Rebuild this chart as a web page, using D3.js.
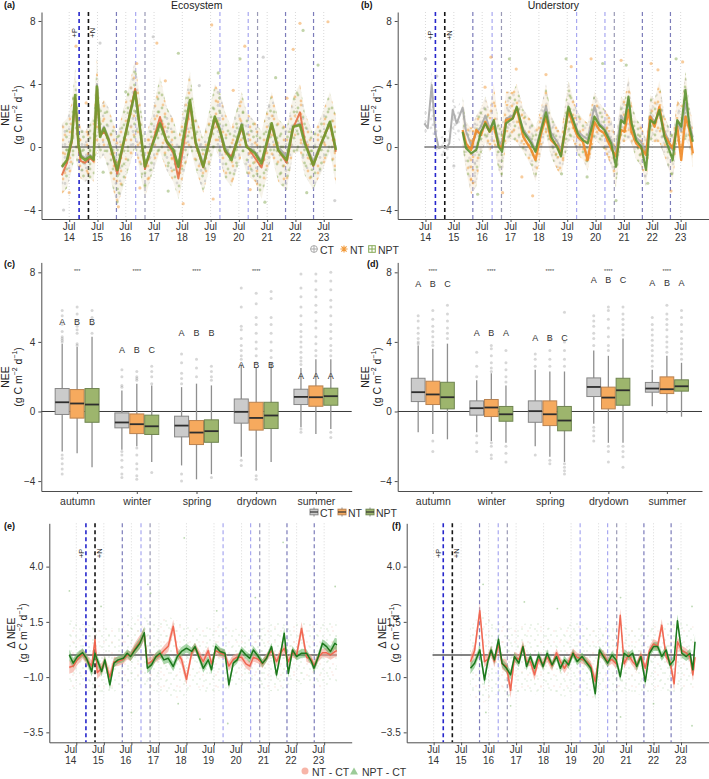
<!DOCTYPE html>
<html>
<head>
<meta charset="utf-8">
<script src="https://cdn.jsdelivr.net/npm/d3@7"></script>
<style>
  body { margin: 0; background: #fff; }
  svg { display: block; font-family: "Liberation Sans", Arial, sans-serif; }
</style>
</head>
<body>
<div id="chart"></div>
<script>
// ---------- data ----------
const yearTicks = [2014.5, 2015.5, 2016.5, 2017.5, 2018.5, 2019.5, 2020.5, 2021.5, 2022.5, 2023.5];
const yearTickLabels = ['14', '15', '16', '17', '18', '19', '20', '21', '22', '23'];
const tickMonth = 'Jul';

const eventYears = [2014.85, 2015.18, 2016.17, 2016.85, 2017.18, 2019.83, 2020.83, 2021.16, 2022.15, 2023.14];
const eventKinds = ['P', 'N', 'E1', 'E2', 'E3', 'E2', 'E2', 'E3', 'E1', 'E1'];

// (a) ecosystem NEE
const ecoYears = [2014.24, 2014.42, 2014.59, 2014.71, 2014.83, 2014.91, 2015.06, 2015.24, 2015.36, 2015.48, 2015.59, 2015.73, 2015.89, 2016.20, 2016.83, 2017.18, 2017.42, 2017.71, 2017.95, 2018.18, 2018.36, 2018.77, 2018.97, 2019.24, 2019.65, 2019.83, 2020.01, 2020.24, 2020.60, 2020.77, 2021.07, 2021.30, 2021.66, 2021.89, 2022.19, 2022.42, 2022.66, 2022.83, 2023.13, 2023.42, 2023.72, 2023.93];
const ecoCT = [-1.3, -0.9, 0.5, 3.2, 0.2, -0.5, -0.7, -0.5, -0.7, 4.0, 0.8, 1.3, 0.6, -1.5, 3.6, -1.3, 0.0, 1.6, 0.4, -0.1, -1.3, 2.9, 0.4, -1.1, 1.9, 1.1, 0.0, -0.7, 1.5, 0.1, -0.3, -0.9, 1.5, 0.0, -0.6, 1.3, 1.5, 0.3, -0.9, 0.3, 1.6, -0.1];
const ecoNT = [-1.8, -1.0, 0.3, 3.1, 0.0, -0.9, -1.0, -0.7, -0.9, 3.6, 0.7, 1.0, 0.5, -1.7, 3.7, -1.4, 0.1, 1.9, 0.3, -0.4, -2.0, 2.7, 0.2, -1.3, 1.8, 1.0, -0.3, -0.6, 1.2, 0.1, -0.7, -1.3, 1.4, -0.2, -1.0, 1.2, 2.2, 0.4, -1.2, 0.3, 1.5, -0.3];
const ecoNPT = [-1.25, -0.83, 0.44, 3.3, 0.13, -0.6, -0.83, -0.6, -0.8, 3.83, 0.65, 1.19, 0.44, -1.46, 3.51, -1.25, 0.02, 1.5, 0.34, -0.19, -1.25, 2.98, 0.3, -1.25, 1.93, 1.08, -0.19, -0.83, 1.4, 0.02, -0.4, -1.04, 1.5, -0.19, -0.83, 1.29, 1.4, 0.23, -1.14, 0.23, 1.6, -0.19];
const ecoCloudLo = [-3.0, -2.6, -1.5, -0.5, -1.6, -2.0, -2.2, -2.0, -2.2, 0.0, -0.8, -0.5, -1.5, -3.8, 0.0, -3.2, -1.8, -0.3, -1.5, -2.2, -3.3, 0.0, -1.4, -2.9, 0.0, -0.8, -2.0, -2.5, -0.5, -1.7, -2.2, -3.3, -0.5, -2.2, -2.8, -0.4, -0.3, -1.8, -2.7, -1.6, -0.3, -2.4];
const ecoCloudHi = [1.5, 1.8, 2.8, 5.0, 2.2, 1.2, 1.0, 1.5, 2.0, 5.6, 2.5, 3.0, 2.5, 0.8, 5.5, 0.5, 2.0, 4.5, 2.5, 1.8, 0.6, 4.8, 2.0, 0.5, 4.0, 3.5, 2.2, 1.2, 3.5, 2.2, 1.6, 1.0, 3.5, 1.8, 1.2, 3.2, 4.0, 2.2, 0.8, 2.0, 3.5, 2.0];
const ecoPoints = [[2014.74, 6.4, 'NT'], [2016.89, 5.3, 'NT'], [2017.47, 7.0, 'CT'], [2017.6, 6.6, 'NT'], [2018.36, 5.95, 'NPT'], [2019.54, 7.75, 'NT'], [2020.54, 5.6, 'NPT'], [2020.71, 6.4, 'NT'], [2021.36, 5.7, 'CT'], [2022.66, 7.85, 'NT'], [2022.77, 7.4, 'NPT'], [2023.65, 7.95, 'NT'], [2023.3, 5.2, 'NPT'], [2015.59, 6.6, 'CT'], [2019.77, 4.7, 'NPT'], [2022.42, 6.2, 'NT'], [2014.3, -4.0, 'CT'], [2016.24, -3.8, 'NT'], [2018.53, -3.6, 'NT'], [2021.42, -3.5, 'NPT'], [2023.89, -3.4, 'CT'], [2019.59, -3.3, 'NT'], [2015.1, 2.8, 'NT'], [2016.5, 3.5, 'NPT'], [2017.9, 4.2, 'NT'], [2019.1, 3.9, 'CT'], [2020.3, 3.6, 'NT'], [2021.8, 4.4, 'NPT'], [2022.2, 3.1, 'NT'], [2014.5, -2.9, 'NT'], [2015.7, -1.6, 'NPT'], [2017.0, -2.6, 'NT'], [2018.0, -2.8, 'NPT'], [2020.9, -2.7, 'NT'], [2022.9, -2.9, 'NPT']];

// (b) understory NEE
const undYears = [2014.46, 2014.58, 2014.72, 2014.85, 2014.97, 2015.11, 2015.23, 2015.34, 2015.46, 2015.60, 2015.81, 2015.93, 2016.11, 2016.29, 2016.46, 2016.61, 2016.76, 2016.91, 2017.08, 2017.20, 2017.34, 2017.58, 2017.72, 2017.95, 2018.23, 2018.38, 2018.58, 2018.75, 2018.93, 2019.16, 2019.28, 2019.54, 2019.69, 2019.87, 2020.05, 2020.22, 2020.46, 2020.63, 2020.81, 2021.05, 2021.22, 2021.40, 2021.52, 2021.66, 2021.77, 2021.93, 2022.11, 2022.28, 2022.43, 2022.58, 2022.75, 2022.93, 2023.10, 2023.22, 2023.38, 2023.52, 2023.67, 2023.81, 2023.93];
const undCT = [1.5, 1.19, 3.94, 0.87, -0.08, 0.02, -0.08, 0.23, 2.35, 1.5, 2.5, 1.0, 0.1, 0.9, 1.3, 2.0, 1.2, 1.6, 0.4, 0.1, 1.8, 2.0, 2.4, 1.1, 0.4, -0.2, 1.2, 2.6, 0.9, 0.3, -0.2, 2.2, 1.7, 1.0, 0.7, 0.5, 2.6, 1.5, 1.2, 0.4, -0.3, 2.0, 1.6, 3.0, 1.4, 0.6, 0.3, -0.4, 2.0, 1.6, 2.2, 1.0, 0.3, -0.2, 1.6, 1.0, 2.8, 1.5, 0.6];
const undNT = [null, null, null, null, null, null, null, null, null, null, 1.08, 0.23, -0.19, 1.08, 0.76, 1.6, 0.97, 1.29, 0.13, -0.08, 1.71, 1.82, 2.46, 0.65, -0.19, -0.83, 0.87, 1.9, 0.44, 0.02, -0.51, 2.35, 1.5, 0.65, 0.34, -0.83, 1.6, 1.08, 0.87, -0.08, -0.6, 1.08, 0.97, 2.35, 0.97, 0.23, -0.08, -0.51, 1.93, 1.29, 2.56, 0.76, 0.23, -0.08, 1.29, -0.83, 1.93, 1.08, -0.4];
const undNPT = [null, null, null, null, null, null, null, null, null, null, 0.97, -0.08, -0.4, -0.19, 0.97, 1.5, 0.97, 1.71, 0.02, -0.3, 1.5, 1.82, 2.56, 0.97, 0.23, -0.3, 1.08, 2.2, 0.65, -0.08, -0.6, 2.56, 1.82, 0.87, 0.44, 0.23, 1.93, 1.4, 1.08, 0.23, -1.25, 1.71, 1.5, 3.2, 1.5, 0.44, 0.02, -1.46, 1.71, 1.5, 2.35, 0.65, -0.19, -0.83, 1.71, 1.29, 3.62, 1.29, 0.34];
const undCloudLo = [0.6, 0.5, 1.2, -0.3, -0.6, -0.6, -1.2, -0.5, 1.0, 0.7, 0.0, -1.5, -3.0, -2.5, -0.5, 0.3, -0.3, 0.2, -1.5, -2.0, 0.2, 0.5, 0.3, -0.3, -1.2, -2.2, -0.3, 0.8, -0.6, -1.5, -1.8, 0.3, 0.5, -0.5, -0.8, -1.5, 0.5, 0.2, -0.2, -1.2, -2.6, 0.3, 0.3, 0.5, 0.2, -0.8, -1.2, -2.5, 0.4, 0.3, 0.3, -0.6, -1.5, -2.2, 0.4, -0.8, 0.5, 0.0, -1.3];
const undCloudHi = [2.5, 2.2, 4.8, 1.8, 0.6, 0.7, 0.6, 1.2, 3.2, 2.4, 3.2, 1.6, 1.2, 2.0, 2.5, 3.2, 2.3, 4.0, 1.5, 1.2, 3.5, 3.5, 4.0, 2.4, 1.7, 1.2, 2.5, 4.0, 2.0, 1.2, 0.8, 4.2, 3.2, 2.2, 1.8, 1.5, 3.5, 2.8, 2.4, 1.8, 0.5, 3.2, 3.0, 4.5, 2.8, 1.8, 1.4, 0.5, 3.3, 3.0, 4.2, 2.0, 1.2, 0.8, 3.0, 2.6, 4.8, 2.6, 1.5];
const undPoints = [[2014.5, 5.6, 'CT'], [2014.9, 4.5, 'CT'], [2016.81, 5.7, 'NT'], [2017.46, 5.6, 'NPT'], [2017.7, 4.95, 'NT'], [2018.75, 4.6, 'NT'], [2019.46, 5.6, 'NPT'], [2019.64, 5.1, 'NT'], [2020.34, 5.6, 'NT'], [2020.75, 5.3, 'NPT'], [2021.4, 5.5, 'NT'], [2021.58, 5.2, 'NPT'], [2022.46, 5.3, 'NT'], [2022.7, 4.9, 'NT'], [2023.34, 5.6, 'NPT'], [2023.57, 5.4, 'NT'], [2016.34, -3.0, 'NPT'], [2017.22, -2.9, 'NT'], [2018.28, -3.1, 'NT'], [2021.22, -3.4, 'NPT'], [2022.34, -2.3, 'NPT'], [2023.16, -2.8, 'NT'], [2016.6, 3.8, 'NT'], [2017.9, -1.9, 'NT'], [2019.3, -1.7, 'NPT'], [2020.2, -1.9, 'NPT'], [2015.5, -1.2, 'CT']];

// (c)/(d) seasonal boxes, order: season x (CT, NT, NPT)
const seasons = ['autumn', 'winter', 'spring', 'drydown', 'summer'];
const treatments = ['CT', 'NT', 'NPT'];
const ecoQ1 = [-0.17, -0.38, -0.62, -0.94, -1.27, -1.32, -1.46, -1.90, -1.77, -0.67, -1.07, -0.98, 0.40, 0.30, 0.36];
const ecoMed = [0.53, 0.46, 0.40, -0.63, -0.73, -0.85, -0.81, -1.21, -1.13, -0.02, -0.37, -0.23, 0.84, 0.82, 0.88];
const ecoQ3 = [1.32, 1.26, 1.32, -0.08, -0.14, -0.21, -0.27, -0.52, -0.48, 0.72, 0.53, 0.53, 1.28, 1.47, 1.34];
const ecoWhiskLo = [-2.3, -2.4, -3.2, -2.2, -2.0, -2.9, -3.1, -3.9, -3.6, -2.6, -3.4, -2.9, -0.9, -1.3, -1.0];
const ecoWhiskHi = [3.9, 3.7, 4.3, 1.2, 1.6, 1.5, 1.4, 1.6, 1.5, 2.7, 2.5, 2.8, 2.5, 3.0, 3.0];
const ecoOutliers = [
  [4.0, 4.1, 4.2, 4.3, 4.6, 5.0, 5.5, 5.8, -2.5, -2.7, -3.0, -3.3, -3.6],
  [3.8, 3.9, 4.5, 4.7, 4.9, 5.2, 5.6, 6.0],
  [4.5, 5.0, 5.4, 5.8],
  [1.4, 1.5, 2.0, 2.4, -2.3, -2.5, -2.8, -3.2, -3.6, -3.8],
  [1.8, 1.9, 2.0, 2.3, -2.1, -2.5, -3.0, -3.3, -3.7, -3.9],
  [1.6, 2.0, 2.3, 2.6, -3.5],
  [1.6, 1.9, 2.2, 2.8, 3.3, -3.6, -4.0],
  [2.0, 2.5, 3.0],
  [1.8, 2.0, 2.3, 2.6, -3.8],
  [3.0, 3.2, 3.5, 3.8, 4.2, 4.7, 4.9, 6.0, 7.1, -2.8, -3.1],
  [2.8, 3.2, 3.6, 4.0, 4.5, 5.0, 5.4, 6.2, 6.8, -3.7, -3.9],
  [3.1, 3.5, 4.0, 4.5, 5.0, 5.4, 6.5, 6.9],
  [2.7, 2.9, 3.1, 3.4, 3.7, 4.0, 4.3, 4.6, 5.0, 5.5, 6.0, 6.6, 7.1, 7.9, -1.0, -1.2],
  [3.2, 3.5, 3.9, 4.3, 4.8, 5.2, 5.7, 6.1, 6.6, 7.0, 7.5, 7.9],
  [3.2, 3.5, 3.8, 4.2, 4.6, 5.0, 5.5, 6.0, 6.4, 7.0, 7.5, 8.0, -1.2, -1.5]
];
const ecoLetters = ['A', 'B', 'B', 'A', 'B', 'C', 'A', 'B', 'B', 'A', 'B', 'B', 'A', 'A', 'A'];
const ecoLetterLevel = [5.15, 3.56, 4.54, 2.7, 2.05];
const ecoStars = ['***', '****', '****', '****', ''];

const undQ1 = [0.57, 0.40, 0.15, -0.21, -0.29, -0.56, -0.62, -0.81, -1.11, 0.86, 0.15, 0.36, 1.11, 1.03, 1.17];
const undMed = [1.11, 0.98, 0.82, 0.19, 0.23, -0.16, 0.02, -0.16, -0.52, 1.41, 0.80, 1.22, 1.32, 1.28, 1.45];
const undQ3 = [1.91, 1.74, 1.68, 0.61, 0.69, 0.29, 0.61, 0.61, 0.29, 1.93, 1.40, 1.91, 1.67, 1.99, 1.82];
const undWhiskLo = [-1.2, -1.3, -1.6, -1.2, -1.7, -1.8, -2.0, -2.6, -2.9, -0.7, -1.8, -1.8, 0.3, -0.1, -0.3];
const undWhiskHi = [3.8, 3.6, 3.9, 1.8, 2.2, 1.5, 2.4, 2.3, 2.3, 3.5, 3.2, 4.2, 2.4, 3.2, 2.8];
const undOutliers = [
  [3.9, 4.0, 4.2, 4.5, 4.8, 5.2, 5.5],
  [3.8, 4.0, 4.3, 4.6, 4.9, 5.3, 5.8, -1.7, -2.3],
  [4.2, 4.5, 4.8, 5.2, 5.6, 6.1],
  [2.0, 2.6, 3.4, -1.4, -1.8, -2.3],
  [2.3, 2.5, 2.8, 3.2, 3.6, 3.8, -1.8, -2.0, -2.5, -2.7],
  [1.7, 2.0, 2.4, 2.8, 3.5, -2.0, -2.4, -2.9],
  [2.6, 3.0, 3.3, -2.5],
  [2.6, 3.0, 3.5, 4.2, -2.8, -3.0],
  [2.6, 3.0, 3.5, 4.0, 5.7, -3.0, -3.2, -3.4, -3.6],
  [3.8, 4.2, 4.5, 4.9, 5.2, 5.5, -0.9, -1.1, -1.4, -1.7],
  [3.5, 3.8, 4.3, 4.8, 5.3, 5.8, 6.0, -2.0, -2.3, -2.9],
  [4.4, 4.7, 5.0, 5.3, 5.6, 6.0, -2.0, -2.3, -2.6, -3.2],
  [2.6, 2.9, 3.2, 3.5, 3.8, 4.1, 4.4, 4.7, 5.0, 5.4],
  [3.4, 3.7, 4.0, 4.3, 4.7, 5.0, 5.3, 5.6, 6.1],
  [3.0, 3.3, 3.6, 3.9, 4.2, 4.6, 5.0, 5.4, 5.8]
];
const undLetters = ['A', 'B', 'C', 'A', 'B', 'A', 'A', 'B', 'C', 'A', 'B', 'C', 'A', 'B', 'A'];
const undLetterLevel = [7.32, 4.5, 4.23, 7.55, 7.36];
const undStars = ['****', '****', '****', '****', '****'];

// (e) ecosystem differences
const diffEcoYears = [2014.245, 2014.39, 2014.54, 2014.73, 2014.87, 2015.06, 2015.18, 2015.26, 2015.42, 2015.54, 2015.72, 2015.87, 2016.02, 2016.21, 2016.35, 2016.47, 2016.63, 2016.81, 2016.97, 2017.08, 2017.23, 2017.39, 2017.54, 2017.68, 2017.84, 2018.02, 2018.17, 2018.32, 2018.50, 2018.69, 2018.81, 2018.97, 2019.11, 2019.29, 2019.41, 2019.56, 2019.72, 2019.90, 2020.04, 2020.20, 2020.34, 2020.50, 2020.66, 2020.80, 2020.93, 2021.11, 2021.26, 2021.41, 2021.59, 2021.77, 2021.92, 2022.05, 2022.20, 2022.35, 2022.50, 2022.68, 2022.86, 2023.04, 2023.13, 2023.29, 2023.44, 2023.59, 2023.73, 2023.89, 2023.96];
const diffEcoNT = [-0.55, -0.5, -0.2, 0.05, -0.2, -0.5, 0.7, -0.8, -0.6, -0.3, -1.0, -0.3, -0.3, -0.2, 0.0, -0.05, 0.3, 0.6, 0.95, -0.4, -0.3, -0.1, 0.0, 0.2, 0.4, 1.3, 0.1, -0.2, -1.1, 0.1, 0.35, 0.0, -0.3, 0.2, -0.4, 0.2, 0.1, 0.0, -0.5, -0.2, -0.1, -0.1, -0.4, -0.5, -0.1, -0.2, -0.4, -0.1, 0.2, -0.3, 0.1, 0.3, -0.3, 0.1, 0.0, 1.2, -0.1, -0.2, -0.5, -0.1, 0.1, 0.1, 0.0, 0.15, 0.2];
const diffEcoNPT = [0.0, -0.37, -0.07, 0.11, -0.15, -0.75, 0.08, -0.22, -0.75, -0.22, -1.35, -0.37, -0.22, -0.15, 0.08, -0.07, 0.23, 0.53, 1.01, -0.6, -0.45, -0.07, 0.08, -0.22, -0.15, -0.52, -0.07, 0.16, 0.31, 0.16, 0.38, -0.15, -0.6, -0.22, -0.67, 0.38, 0.16, 0.08, -1.35, -0.37, -0.22, 0.23, 0.0, -0.15, 0.23, -0.07, -0.37, -0.15, 0.38, -0.9, 0.08, 0.98, -0.83, 0.23, -0.07, 0.08, 0.08, -0.3, -0.6, -0.07, 0.53, 0.38, 0.16, 0.53, 0.45];
const diffEcoNTse = [0.3, 0.28, 0.25, 0.22, 0.22, 0.25, 0.3, 0.28, 0.25, 0.22, 0.28, 0.22, 0.2, 0.2, 0.2, 0.22, 0.25, 0.3, 0.3, 0.25, 0.22, 0.2, 0.2, 0.22, 0.25, 0.3, 0.25, 0.28, 0.25, 0.22, 0.2, 0.2, 0.22, 0.2, 0.22, 0.2, 0.2, 0.2, 0.22, 0.2, 0.18, 0.18, 0.2, 0.22, 0.2, 0.18, 0.2, 0.18, 0.2, 0.22, 0.2, 0.22, 0.22, 0.2, 0.2, 0.3, 0.22, 0.2, 0.22, 0.2, 0.2, 0.22, 0.22, 0.25, 0.28];
const diffEcoNPTse = [0.25, 0.22, 0.2, 0.2, 0.2, 0.22, 0.25, 0.22, 0.22, 0.2, 0.22, 0.2, 0.18, 0.18, 0.18, 0.2, 0.22, 0.25, 0.28, 0.22, 0.2, 0.18, 0.18, 0.2, 0.2, 0.22, 0.2, 0.2, 0.2, 0.18, 0.18, 0.18, 0.2, 0.18, 0.2, 0.18, 0.18, 0.18, 0.2, 0.18, 0.16, 0.16, 0.18, 0.2, 0.18, 0.16, 0.18, 0.16, 0.18, 0.2, 0.18, 0.25, 0.2, 0.18, 0.18, 0.2, 0.18, 0.18, 0.2, 0.18, 0.18, 0.2, 0.22, 0.25, 0.3];

// (f) understory differences
const diffUndYears = [2015.84, 2015.99, 2016.18, 2016.35, 2016.47, 2016.59, 2016.71, 2016.86, 2016.99, 2017.15, 2017.30, 2017.44, 2017.60, 2017.75, 2017.88, 2018.02, 2018.17, 2018.32, 2018.48, 2018.63, 2018.81, 2018.97, 2019.11, 2019.26, 2019.41, 2019.57, 2019.72, 2019.90, 2020.08, 2020.22, 2020.38, 2020.53, 2020.68, 2020.83, 2020.99, 2021.14, 2021.29, 2021.43, 2021.59, 2021.74, 2021.89, 2022.04, 2022.20, 2022.35, 2022.50, 2022.65, 2022.80, 2022.96, 2023.10, 2023.25, 2023.37, 2023.53, 2023.69, 2023.83, 2023.93, 2024.01];
const diffUndNT = [-0.3, 0.2, 2.0, -0.3, -0.2, 0.2, -0.3, 0.5, -0.4, -0.5, -1.6, -0.1, -0.2, 0.4, -0.3, -0.3, -0.9, -0.2, -0.4, -0.1, -0.5, 0.1, -0.3, -0.6, -0.3, 0.1, -0.1, -0.2, -0.3, -0.5, -1.2, 0.1, 0.0, -0.3, -0.2, -0.4, 1.8, -0.4, 0.0, -0.3, -0.5, 0.0, -0.6, 0.2, 0.5, 0.4, 1.35, -0.1, -0.3, -1.3, 0.6, 0.2, 0.1, -0.1, -0.9, -0.1];
const diffUndNPT = [-0.6, -0.37, 0.23, -1.13, -0.3, 0.23, -0.22, 0.71, -0.37, -0.6, -0.9, -0.07, -0.37, 0.38, -0.52, -0.07, -0.6, 0.0, -0.52, 0.08, -0.45, -0.07, -0.6, -0.22, -0.45, 0.08, -0.3, -0.07, -0.37, -0.6, -1.75, 0.23, -0.07, -0.37, 0.0, -0.22, -0.98, 0.08, -0.07, 0.08, -0.52, -0.07, -1.2, 0.08, 0.38, 0.38, -0.07, 0.23, -0.45, -0.22, 1.55, 0.08, -0.07, 0.08, -0.67, 0.6];
const diffUndNTse = [0.3, 0.28, 0.35, 0.25, 0.22, 0.22, 0.25, 0.28, 0.25, 0.3, 0.35, 0.25, 0.22, 0.25, 0.22, 0.2, 0.25, 0.2, 0.22, 0.2, 0.22, 0.2, 0.2, 0.22, 0.2, 0.2, 0.2, 0.2, 0.2, 0.22, 0.3, 0.2, 0.2, 0.22, 0.2, 0.22, 0.3, 0.22, 0.2, 0.2, 0.22, 0.2, 0.22, 0.2, 0.22, 0.22, 0.28, 0.2, 0.22, 0.3, 0.25, 0.22, 0.2, 0.22, 0.28, 0.3];
const diffUndNPTse = [0.25, 0.22, 0.2, 0.25, 0.2, 0.2, 0.2, 0.22, 0.2, 0.2, 0.22, 0.2, 0.18, 0.2, 0.18, 0.18, 0.2, 0.18, 0.18, 0.18, 0.18, 0.18, 0.18, 0.18, 0.18, 0.18, 0.18, 0.18, 0.18, 0.2, 0.25, 0.18, 0.18, 0.18, 0.18, 0.2, 0.22, 0.18, 0.18, 0.18, 0.2, 0.18, 0.22, 0.18, 0.2, 0.2, 0.2, 0.2, 0.2, 0.22, 0.28, 0.2, 0.2, 0.22, 0.25, 0.3];

const diffCloudYears = [2014.24, 2014.75, 2015.25, 2015.82, 2016.25, 2016.75, 2017.25, 2017.75, 2018.25, 2018.75, 2019.25, 2019.75, 2020.25, 2020.75, 2021.25, 2021.75, 2022.25, 2022.75, 2023.25, 2023.96];
const diffEcoCloudLo = [-1.6, -1.5, -1.8, -1.7, -1.4, -1.2, -1.6, -1.8, -2.0, -1.5, -1.7, -1.6, -1.4, -1.3, -1.5, -1.7, -1.4, -1.3, -1.5, -1.2];
const diffEcoCloudHi = [1.6, 1.4, 1.3, 1.2, 1.3, 2.0, 1.4, 1.8, 1.5, 1.2, 1.3, 1.4, 1.2, 1.1, 1.2, 1.5, 1.3, 1.6, 1.4, 1.5];
const diffUndCloudLo = [null, null, null, -1.8, -2.2, -1.8, -1.9, -1.6, -1.8, -1.7, -1.9, -1.6, -2.0, -1.5, -1.8, -1.7, -1.9, -1.6, -1.7, -1.5];
const diffUndCloudHi = [null, null, null, 1.2, 2.0, 1.6, 1.2, 1.4, 1.5, 1.2, 1.3, 1.5, 1.1, 1.3, 1.4, 1.2, 1.3, 1.4, 1.6, 1.3];
const diffEcoPoints = [[2014.25, 2.9], [2017.1, 3.2], [2017.2, 2.8], [2018.42, 5.3], [2021.0, 2.6], [2022.01, 5.1], [2023.9, 3.1], [2016.5, -2.6], [2018.2, -2.2], [2018.99, -2.9], [2020.0, -3.1], [2015.4, 2.2], [2019.6, 2.0]];
const diffUndPoints = [[2016.3, 3.2], [2017.8, 2.4], [2019.0, 2.1], [2021.3, 2.6], [2023.4, 3.9], [2023.9, 2.2], [2016.4, -2.6], [2017.3, -2.3], [2019.8, -2.5], [2021.3, -2.8], [2022.5, -2.2], [2023.9, -3.2]];

// ---------- layout & style ----------
const W = 709, H = 779;
const panels = {
  a: { left: 41.5, right: 352, top: 12, bottom: 219 },
  b: { left: 397.7, right: 709, top: 12, bottom: 219 },
  c: { left: 41.3, right: 351.7, top: 262.4, bottom: 491 },
  d: { left: 397.7, right: 702, top: 262.4, bottom: 491 },
  e: { left: 49.3, right: 351.7, top: 523.3, bottom: 742.3 },
  f: { left: 406.7, right: 708.5, top: 523.3, bottom: 742.3 }
};
const xYears = [2013.52, 2024.5];
const yNEE = [-4.57, 8.57];
const yDiff = [-3.95, 5.96];
const axisColor = '#4d4d4d';
const textColor = '#333';

const ORANGE = '#f39b3a', GREEN = '#89ab55', GRAY = '#b4b4b4';
const ecoLine = { CT: '#a9a9a9', NT: '#e4673a', NPT: '#6f9b2e' };
const undLine = { CT: '#a9a9a9', NT: '#f08a26', NPT: '#5e9332' };
const ptColor = { CT: '#a8a8a8', NT: '#f29a3a', NPT: '#86a955' };
const boxFill = { CT: '#cbcbcb', NT: '#f6aa5e', NPT: '#9db56d' };
const boxStroke = { CT: '#868686', NT: '#b98250', NPT: '#6f8550' };
const eventColor = { P: '#2626cc', N: '#151515', E1: '#7c7cba', E2: '#a8a8f0', E3: '#9a9ab6' };
const diffCol = { NT: '#f0624c', NTband: '#f3a292', NPT: '#1c781c', NPTband: '#55b055' };

const svg = d3.select('#chart').append('svg').attr('width', W).attr('height', H);
const defs = svg.append('defs');

// dotted textures standing in for the dense point clouds
function dotPattern(id, w, h, dots, r, op) {
  const p = defs.append('pattern').attr('id', id)
    .attr('width', w).attr('height', h).attr('patternUnits', 'userSpaceOnUse');
  dots.forEach(d => p.append('circle').attr('cx', d[0]).attr('cy', d[1]).attr('r', r)
    .attr('fill', d[2]).attr('fill-opacity', op));
}
dotPattern('ecoDots1', 17, 13, [[2, 2, ORANGE], [9, 4, GREEN], [14, 1.5, GRAY], [5, 8, GREEN], [12, 10, ORANGE], [1, 12, GRAY], [15.5, 7, GREEN]], 1.4, 0.5);
dotPattern('ecoDots2', 23, 19, [[4, 3, GREEN], [11, 7, ORANGE], [19, 2, ORANGE], [7, 14, GREEN], [16, 12, GRAY], [21, 17, GREEN], [2, 10, ORANGE], [13, 18, GREEN]], 1.4, 0.45);
dotPattern('undGray', 11, 9, [[2, 2, GRAY], [7.5, 5, GRAY], [4, 8, GRAY]], 1.4, 0.45);
dotPattern('undMix1', 17, 13, [[2, 2, '#f29a30'], [9, 5, GREEN], [14, 1, '#f29a30'], [5, 9, GREEN], [12, 11, '#f29a30'], [16, 7, GRAY]], 1.4, 0.5);
dotPattern('undMix2', 23, 19, [[4, 3, GREEN], [11, 8, '#f29a30'], [19, 3, GREEN], [1, 13, GRAY], [8, 16, '#f29a30'], [17, 15, GREEN]], 1.4, 0.45);
dotPattern('diffDots1', 13, 11, [[2, 2, '#8fbf7f'], [8, 4, '#f0a896'], [5, 8, '#8fbf7f'], [11, 9, '#8fbf7f']], 0.7, 0.45);
dotPattern('diffDots2', 19, 15, [[5, 1, '#9fc58f'], [14, 6, '#8fbf7f'], [9, 12, '#f0b0a0'], [17, 13, '#8fbf7f']], 0.7, 0.4);

function idx(arr) { return arr.map((_, i) => i); }

function yAxis(g, y, box, ticks, fmt) {
  g.append('g').attr('transform', `translate(${box.left},0)`)
    .call(d3.axisLeft(y).tickValues(ticks).tickSize(3).tickSizeOuter(0).tickFormat(fmt))
    .call(a => {
      a.select('.domain').attr('stroke', axisColor).attr('stroke-width', 1);
      a.selectAll('.tick line').attr('stroke', axisColor);
      a.selectAll('.tick text').attr('font-size', 10).attr('fill', textColor)
        .attr('font-family', '"Liberation Sans", Arial, sans-serif');
    });
}

function yTitle(g, cx1, cx2, cy, first) {
  g.append('text').attr('transform', `translate(${cx1},${cy}) rotate(-90)`)
    .attr('text-anchor', 'middle').attr('dominant-baseline', 'central')
    .attr('font-size', 10.5).attr('fill', '#222').text(first);
  const t = g.append('text').attr('transform', `translate(${cx2},${cy}) rotate(-90)`)
    .attr('text-anchor', 'middle').attr('dominant-baseline', 'central')
    .attr('font-size', 10.5).attr('fill', '#222');
  t.append('tspan').text('(g C m');
  t.append('tspan').attr('font-size', 7).attr('dy', -4).text('−2');
  t.append('tspan').attr('dy', 4).text(' d');
  t.append('tspan').attr('font-size', 7).attr('dy', -4).text('−1');
  t.append('tspan').attr('dy', 4).text(')');
}

function tag(g, x, y, s) {
  g.append('text').attr('x', x).attr('y', y).attr('font-size', 9).attr('font-weight', 'bold')
    .attr('fill', '#111').text(s);
}

// shared time frame: grid, events, x axis
function timeFrame(key, yDom, labelShift) {
  const box = panels[key];
  const g = svg.append('g');
  const x = d3.scaleLinear().domain(xYears).range([box.left, box.right]);
  const y = d3.scaleLinear().domain(yDom).range([box.bottom, box.top]);

  g.selectAll('.grid').data(yearTicks).join('line')
    .attr('x1', d => x(d)).attr('x2', d => x(d))
    .attr('y1', box.top).attr('y2', box.bottom)
    .attr('stroke', '#cfcfcf').attr('stroke-width', 0.8).attr('stroke-dasharray', '1,2');

  g.selectAll('.ev').data(idx(eventYears)).join('line')
    .attr('x1', i => x(eventYears[i])).attr('x2', i => x(eventYears[i]))
    .attr('y1', box.top).attr('y2', box.bottom)
    .attr('stroke', i => eventColor[eventKinds[i]])
    .attr('stroke-width', i => (eventKinds[i] === 'P' || eventKinds[i] === 'N') ? 1.6 : 1.2)
    .attr('stroke-dasharray', '4,3');

  const ax = g.append('g').attr('transform', `translate(0,${box.bottom})`)
    .call(d3.axisBottom(x).tickValues(yearTicks).tickSize(3).tickSizeOuter(0).tickFormat(''));
  ax.select('.domain').attr('stroke', axisColor).attr('stroke-width', 1);
  ax.selectAll('.tick line').attr('stroke', axisColor);
  const lab = g.selectAll('.xl').data(idx(yearTicks)).join('text')
    .attr('text-anchor', 'middle').attr('font-size', 10).attr('fill', textColor);
  lab.append('tspan').attr('x', i => x(yearTicks[i]) + labelShift).attr('y', box.bottom + 10.5).text(tickMonth);
  lab.append('tspan').attr('x', i => x(yearTicks[i]) + labelShift).attr('y', box.bottom + 21.5).text(i => yearTickLabels[i]);
  return { g, x, y, box };
}

function eventTags(f, level) {
  const pairs = [['P', -4.5], ['N', 4.5]];
  pairs.forEach(p => {
    const i = eventKinds.indexOf(p[0]);
    f.g.append('text')
      .attr('transform', `translate(${f.x(eventYears[i]) + p[1]},${f.y(level)}) rotate(-90)`)
      .attr('text-anchor', 'middle').attr('dominant-baseline', 'central')
      .attr('font-size', 7.5).attr('fill', '#222').text('+' + p[0]);
  });
}

function band(f, years, lo, hi, fill, op) {
  const area = d3.area()
    .defined(i => lo[i] != null)
    .x(i => f.x(years[i])).y0(i => f.y(lo[i])).y1(i => f.y(hi[i]));
  f.g.append('path').datum(idx(years)).attr('d', area).attr('fill', fill).attr('fill-opacity', op);
}

function seriesLine(f, years, vals, color, width, op) {
  const line = d3.line().defined(i => vals[i] != null)
    .x(i => f.x(years[i])).y(i => f.y(vals[i]));
  f.g.append('path').datum(idx(years)).attr('d', line).attr('fill', 'none')
    .attr('stroke', color).attr('stroke-width', width).attr('stroke-opacity', op)
    .attr('stroke-linejoin', 'round');
}

function zeroLine(f, x0, x1, color, width) {
  f.g.append('line').attr('x1', f.x(x0)).attr('x2', f.x(x1))
    .attr('y1', f.y(0)).attr('y2', f.y(0)).attr('stroke', color).attr('stroke-width', width);
}

// ---------- (a) ecosystem ----------
const fa = timeFrame('a', yNEE, 0);
band(fa, ecoYears, ecoCloudLo, ecoCloudHi, '#e6dcc4', 0.35);
band(fa, ecoYears, ecoCloudLo, ecoCloudHi, 'url(#ecoDots1)', 1);
band(fa, ecoYears, ecoCloudLo, ecoCloudHi, 'url(#ecoDots2)', 1);
fa.g.selectAll('.pt').data(ecoPoints).join('circle')
  .attr('cx', d => fa.x(d[0])).attr('cy', d => fa.y(d[1])).attr('r', 1.6)
  .attr('fill', d => ptColor[d[2]]).attr('fill-opacity', 0.5);
zeroLine(fa, ecoYears[0], ecoYears[ecoYears.length - 1], '#3a3a3a', 1);
seriesLine(fa, ecoYears, ecoCT, ecoLine.CT, 2, 0.9);
seriesLine(fa, ecoYears, ecoNT, ecoLine.NT, 2, 0.85);
seriesLine(fa, ecoYears, ecoNPT, ecoLine.NPT, 2.6, 0.9);
eventTags(fa, 7.25);
yAxis(svg, fa.y, fa.box, [-4, 0, 4, 8], d3.format('d'));
yTitle(svg, 5, 18, 115, 'NEE');
svg.append('text').attr('x', (fa.box.left + fa.box.right) / 2).attr('y', 9)
  .attr('text-anchor', 'middle').attr('font-size', 10.5).attr('fill', '#222').text('Ecosystem');
tag(svg, 4, 8, '(a)');

// ---------- (b) understory ----------
const fb = timeFrame('b', yNEE, 0);
band(fb, undYears, undCloudLo, undCloudHi, 'url(#undGray)', 1);
const mixLo = undCloudLo.map((v, i) => undNT[i] == null ? null : v);
band(fb, undYears, mixLo, undCloudHi, '#efd9b8', 0.3);
band(fb, undYears, mixLo, undCloudHi, 'url(#undMix1)', 1);
band(fb, undYears, mixLo, undCloudHi, 'url(#undMix2)', 1);
fb.g.selectAll('.pt').data(undPoints).join('circle')
  .attr('cx', d => fb.x(d[0])).attr('cy', d => fb.y(d[1])).attr('r', 1.6)
  .attr('fill', d => ptColor[d[2]]).attr('fill-opacity', 0.5);
zeroLine(fb, undYears[0], undYears[undYears.length - 1], '#3a3a3a', 1);
seriesLine(fb, undYears, undCT, undLine.CT, 2, 0.9);
seriesLine(fb, undYears, undNT, undLine.NT, 2.4, 0.9);
seriesLine(fb, undYears, undNPT, undLine.NPT, 2.2, 0.9);
eventTags(fb, 7.1);
yAxis(svg, fb.y, fb.box, [-4, 0, 4, 8], d3.format('d'));
yTitle(svg, 364.5, 377, 115, 'NEE');
svg.append('text').attr('x', (fb.box.left + fb.box.right) / 2).attr('y', 9)
  .attr('text-anchor', 'middle').attr('font-size', 10.5).attr('fill', '#222').text('Understory');
tag(svg, 361, 8, '(b)');

// ---------- legends ----------
function legendGlyph(g, kind, cx, cy, color) {
  if (kind === 'circle') {
    g.append('circle').attr('cx', cx).attr('cy', cy).attr('r', 3.4).attr('fill', 'none').attr('stroke', color).attr('stroke-width', 1);
    g.append('path').attr('d', `M${cx - 3.4},${cy}H${cx + 3.4}M${cx},${cy - 3.4}V${cy + 3.4}`).attr('stroke', color).attr('stroke-width', 1);
  } else if (kind === 'star') {
    g.append('path').attr('d', `M${cx - 3.6},${cy}H${cx + 3.6}M${cx},${cy - 3.6}V${cy + 3.6}M${cx - 2.6},${cy - 2.6}L${cx + 2.6},${cy + 2.6}M${cx - 2.6},${cy + 2.6}L${cx + 2.6},${cy - 2.6}`)
      .attr('stroke', color).attr('stroke-width', 1.1);
  } else if (kind === 'square') {
    g.append('rect').attr('x', cx - 3.3).attr('y', cy - 3.3).attr('width', 6.6).attr('height', 6.6).attr('fill', 'none').attr('stroke', color).attr('stroke-width', 1);
    g.append('path').attr('d', `M${cx - 3.3},${cy}H${cx + 3.3}M${cx},${cy - 3.3}V${cy + 3.3}`).attr('stroke', color).attr('stroke-width', 1);
  } else if (kind === 'box') {
    g.append('path').attr('d', `M${cx},${cy - 4.5}V${cy + 4.5}`).attr('stroke', '#8a8a8a').attr('stroke-width', 1);
    g.append('rect').attr('x', cx - 4).attr('y', cy - 2.8).attr('width', 8).attr('height', 5.6)
      .attr('fill', boxFill[color]).attr('stroke', boxStroke[color]);
    g.append('path').attr('d', `M${cx - 4},${cy}H${cx + 4}`).attr('stroke', '#333').attr('stroke-width', 1.2);
  }
}
function legendText(x, y, s, size) {
  svg.append('text').attr('x', x).attr('y', y).attr('dominant-baseline', 'central')
    .attr('font-size', size).attr('fill', textColor).text(s);
}
const leg = svg.append('g');
legendGlyph(leg, 'circle', 314, 249, '#a9a9a9'); legendText(320, 249.5, 'CT', 10.5);
legendGlyph(leg, 'star', 344, 249, '#f29a3a'); legendText(350, 249.5, 'NT', 10.5);
legendGlyph(leg, 'square', 372, 249, '#86a955'); legendText(378, 249.5, 'NPT', 10.5);

legendGlyph(leg, 'box', 314, 512, 'CT'); legendText(320, 512.5, 'CT', 10.5);
legendGlyph(leg, 'box', 342, 512, 'NT'); legendText(348, 512.5, 'NT', 10.5);
legendGlyph(leg, 'box', 370, 512, 'NPT'); legendText(376, 512.5, 'NPT', 10.5);

leg.append('circle').attr('cx', 305).attr('cy', 771).attr('r', 3.5).attr('fill', '#f7b5a8');
legendText(312, 771.5, 'NT - CT', 10.5);
leg.append('path').attr('d', 'M354,767.5L358,774.5H350Z').attr('fill', '#9ccb98');
legendText(362, 771.5, 'NPT - CT', 10.5);

// ---------- (c)/(d) seasonal boxplots ----------
function boxPanel(key, q1, med, q3, wLo, wHi, outl, letters, letterLevel, stars) {
  const box = panels[key];
  const g = svg.append('g');
  const x = d3.scaleLinear().domain([0.4, 5.6]).range([box.left, box.right]);
  const y = d3.scaleLinear().domain(yNEE).range([box.bottom, box.top]);
  const dodge = 0.25, bw = 0.235;
  const cells = idx(q1).map(i => ({ i, s: Math.floor(i / 3), t: treatments[i % 3], xc: (Math.floor(i / 3) + 1) + (i % 3 - 1) * dodge }));

  g.append('line').attr('x1', box.left).attr('x2', box.right).attr('y1', y(0)).attr('y2', y(0))
    .attr('stroke', '#3a3a3a').attr('stroke-width', 1);

  cells.forEach(c => {
    const cx = x(c.xc);
    g.append('line').attr('x1', cx).attr('x2', cx).attr('y1', y(wLo[c.i])).attr('y2', y(wHi[c.i]))
      .attr('stroke', '#8f8f8f').attr('stroke-width', 1.3);
    g.selectAll(null).data(outl[c.i]).join('circle')
      .attr('cx', cx).attr('cy', v => y(v)).attr('r', 1.5)
      .attr('fill', '#8c8c8c').attr('fill-opacity', 0.35);
    g.append('rect').attr('x', x(c.xc - bw / 2)).attr('width', x(c.xc + bw / 2) - x(c.xc - bw / 2))
      .attr('y', y(q3[c.i])).attr('height', y(q1[c.i]) - y(q3[c.i]))
      .attr('fill', boxFill[c.t]).attr('stroke', boxStroke[c.t]).attr('stroke-width', 1);
    g.append('line').attr('x1', x(c.xc - bw / 2)).attr('x2', x(c.xc + bw / 2))
      .attr('y1', y(med[c.i])).attr('y2', y(med[c.i])).attr('stroke', '#2e2e2e').attr('stroke-width', 1.8);
    g.append('text').attr('x', cx).attr('y', y(letterLevel[c.s])).attr('dominant-baseline', 'central')
      .attr('text-anchor', 'middle').attr('font-size', 9).attr('fill', '#333').text(letters[c.i]);
  });

  g.selectAll('.star').data(idx(stars)).join('text')
    .attr('x', i => x(i + 1)).attr('y', y(8.1)).attr('text-anchor', 'middle').attr('dominant-baseline', 'central')
    .attr('font-size', 5.5).attr('fill', '#444').text(i => stars[i]);

  const ax = g.append('g').attr('transform', `translate(0,${box.bottom})`)
    .call(d3.axisBottom(x).tickValues([1, 2, 3, 4, 5]).tickSize(3).tickSizeOuter(0).tickFormat(d => seasons[d - 1]));
  ax.select('.domain').attr('stroke', axisColor).attr('stroke-width', 1);
  ax.selectAll('.tick line').attr('stroke', axisColor);
  ax.selectAll('.tick text').attr('font-size', 10.5).attr('fill', textColor).attr('dy', '0.8em')
    .attr('font-family', '"Liberation Sans", Arial, sans-serif');
  yAxis(svg, y, box, [-4, 0, 4, 8], d3.format('d'));
  return { g, x, y, box };
}

boxPanel('c', ecoQ1, ecoMed, ecoQ3, ecoWhiskLo, ecoWhiskHi, ecoOutliers, ecoLetters, ecoLetterLevel, ecoStars);
yTitle(svg, 5, 18, 377, 'NEE');
tag(svg, 4, 267, '(c)');
boxPanel('d', undQ1, undMed, undQ3, undWhiskLo, undWhiskHi, undOutliers, undLetters, undLetterLevel, undStars);
yTitle(svg, 364.5, 377, 377, 'NEE');
tag(svg, 367, 267, '(d)');

// ---------- (e)/(f) treatment differences ----------
function diffPanel(key, years, nt, npt, ntSe, nptSe, cloudLo, cloudHi, pts, zeroFrom, shift) {
  const f = timeFrame(key, yDiff, shift);
  band(f, diffCloudYears, cloudLo, cloudHi, 'url(#diffDots1)', 1);
  band(f, diffCloudYears, cloudLo, cloudHi, 'url(#diffDots2)', 1);
  f.g.selectAll('.pt').data(pts).join('circle')
    .attr('cx', d => f.x(d[0])).attr('cy', d => f.y(d[1])).attr('r', 0.9)
    .attr('fill', '#8fbf7f').attr('fill-opacity', 0.6);
  zeroLine(f, zeroFrom, years[years.length - 1], '#5a5a5a', 1.6);
  const ntLo = nt.map((v, i) => v - ntSe[i]), ntHi = nt.map((v, i) => v + ntSe[i]);
  const nptLo = npt.map((v, i) => v - nptSe[i]), nptHi = npt.map((v, i) => v + nptSe[i]);
  band(f, years, ntLo, ntHi, diffCol.NTband, 0.6);
  band(f, years, nptLo, nptHi, diffCol.NPTband, 0.5);
  seriesLine(f, years, nt, diffCol.NT, 1.5, 0.95);
  seriesLine(f, years, npt, diffCol.NPT, 1.5, 1);
  eventTags(f, 4.6);
  yAxis(svg, f.y, f.box, [-3.5, -1.0, 1.5, 4.0], d3.format('.1f'));
  return f;
}

diffPanel('e', diffEcoYears, diffEcoNT, diffEcoNPT, diffEcoNTse, diffEcoNPTse, diffEcoCloudLo, diffEcoCloudHi, diffEcoPoints, diffEcoYears[0], -5.5);
yTitle(svg, 11, 23, 633, 'Δ NEE');
tag(svg, 4, 529, '(e)');
diffPanel('f', diffUndYears, diffUndNT, diffUndNPT, diffUndNTse, diffUndNPTse, diffUndCloudLo, diffUndCloudHi, diffUndPoints, undYears[0], 0);
yTitle(svg, 382, 395, 633, 'Δ NEE');
tag(svg, 392, 529, '(f)');
</script>
</body>
</html>
